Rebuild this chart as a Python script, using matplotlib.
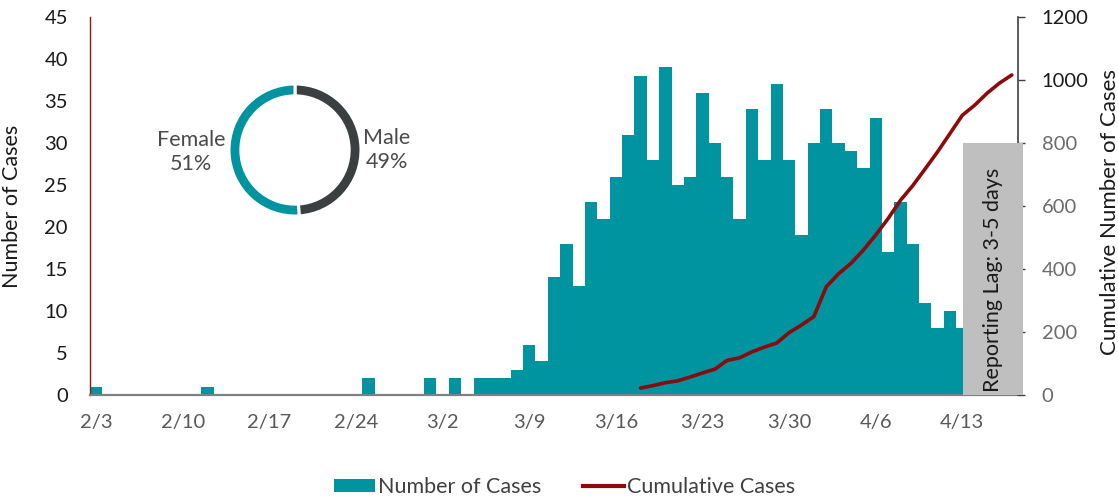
import matplotlib
matplotlib.use('Agg')
import matplotlib.pyplot as plt
import numpy as np
import pandas as pd
from matplotlib.patches import Rectangle, Patch
from matplotlib.lines import Line2D

plt.rcParams['font.family'] = ['Lato', 'DejaVu Sans']

# ---------------- data ----------------
start_date = '2020-02-03'
end_date = '2020-04-17'
tick_labels = ['2/3', '2/10', '2/17', '2/24', '3/2', '3/9', '3/16', '3/23', '3/30', '4/6', '4/13']

# daily number of cases (by onset), 2/3 .. 4/13
cases = [1, 0, 0, 0, 0, 0, 0, 0, 0, 1,
         0, 0, 0, 0, 0, 0, 0, 0, 0, 0,
         0, 0, 2, 0, 0, 0, 0, 2, 0, 2,
         0, 2, 2, 2, 3, 6, 4, 14, 18, 13,
         23, 21, 26, 31, 38, 28, 39, 25, 26, 36,
         30, 26, 21, 34, 28, 37, 28, 19, 30, 34,
         30, 29, 27, 33, 17, 23, 18, 11, 8, 10,
         8]

# cumulative cases, 3/18 .. 4/17
cum_start = '2020-03-18'
cumulative = [22, 30, 39, 45, 57, 70, 82, 110, 118, 137,
              152, 165, 198, 222, 249, 343, 385, 418, 460, 508,
              560, 618, 665, 718, 772, 830, 888, 920, 958, 990,
              1016]

gender_labels = ['Male', 'Female']
gender_pct = [49, 51]

series_labels = ['Number of Cases', 'Cumulative Cases']
lag_text = 'Reporting Lag: 3-5 days'

# ---------------- style ----------------
TEAL = '#0093A0'
RED = '#8B0A0A'
DARK = '#3B3F40'
GRAY_TXT = '#595959'

W, H = 1118, 498
fig = plt.figure(figsize=(W / 100, H / 100), dpi=100)

def fx(px):
    return px / W

def fy(py):
    return 1 - py / H

ax_l, ax_r, ax_t, ax_b = 90, 1018, 17, 395
ax = fig.add_axes([fx(ax_l), fy(ax_b), fx(ax_r - ax_l), (ax_b - ax_t) / H])

dates = pd.date_range(start_date, end_date, freq='D')
xi = np.arange(len(cases))
ax.bar(xi, cases, width=1.0, color=TEAL, linewidth=0, zorder=2)
ax.set_xlim(-0.5, len(dates) - 0.5)
ax.set_ylim(0, 45)
ax.set_yticks(range(0, 46, 5))
ax.set_xticks(np.arange(0, len(cases), 7), labels=tick_labels)
ax.tick_params(axis='x', length=0, colors=GRAY_TXT, labelsize=14.5, pad=14)
ax.tick_params(axis='y', length=0, labelsize=14.5, pad=16, colors='#1a1a1a')
for s in ['top', 'right']:
    ax.spines[s].set_visible(False)
ax.spines['left'].set_color('#A01010')
ax.spines['left'].set_linewidth(1.0)
ax.spines['bottom'].set_color('#808080')
ax.spines['bottom'].set_linewidth(1.6)

ax2 = ax.twinx()
ax2.set_ylim(0, 1200)
rticks = list(range(0, 1201, 200))
ax2.set_yticks(rticks, labels=[str(t) for t in rticks])
ax2.tick_params(axis='y', direction='out', length=5, width=1, color='#404040',
                labelsize=14.5, pad=12)
for t, lbl in zip(rticks, ax2.get_yticklabels()):
    lbl.set_color('#6b6b6b' if t <= 800 else '#1a1a1a')
for s in ['top', 'left', 'bottom']:
    ax2.spines[s].set_visible(False)
ax2.spines['right'].set_color('#404040')
ax2.spines['right'].set_linewidth(1.2)

cum_dates = pd.date_range(cum_start, periods=len(cumulative), freq='D')
cum_x = np.array([(d - dates[0]).days for d in cum_dates])
ax2.plot(cum_x, cumulative, color=RED, lw=2.6, solid_capstyle='round',
         solid_joinstyle='round', zorder=5)

# reporting lag box
box = Rectangle((len(cases) - 0.95, 0), 4.85, 800, transform=ax2.transData,
                facecolor='#BFBFBF', edgecolor='none', zorder=10, clip_on=False)
ax2.add_patch(box)
fig.text(fx(993), fy(280), lag_text, rotation=90, ha='center', va='center',
         fontsize=15.5, color='#1a1a1a')

ax.set_ylabel('Number of Cases', fontsize=15.5, color='#1a1a1a')
ax.yaxis.set_label_coords(fx(22 - ax_l) / fx(ax_r - ax_l), 0.5)
fig.text(fx(1110), fy(212), 'Cumulative Number of Cases', rotation=90,
         ha='center', va='center', fontsize=16, color='#1a1a1a')

# donut
cx, cy, r = 295, 150, 66
dax = fig.add_axes([fx(cx - r - 2), fy(cy + r + 2), fx(2 * r + 4), (2 * r + 4) / H])
dax.pie(gender_pct, colors=[DARK, TEAL], startangle=90, counterclock=False,
        wedgeprops=dict(width=0.18, edgecolor='white', linewidth=2.2))
dax.set_xlim(-1.03, 1.03)
dax.set_ylim(-1.03, 1.03)
dax.set_aspect('equal')
dax.axis('off')
fig.text(fx(191), fy(152), f'{gender_labels[1]}\n{gender_pct[1]}%', ha='center',
         va='center', fontsize=15.5, color='#4a4a4a', linespacing=1.2)
fig.text(fx(387), fy(150), f'{gender_labels[0]}\n{gender_pct[0]}%', ha='center',
         va='center', fontsize=15.5, color='#4a4a4a', linespacing=1.2)

# legend
handles = [Patch(facecolor=TEAL, edgecolor='none'),
           Line2D([], [], color=RED, lw=3)]
fig.legend(handles, series_labels, loc='center', bbox_to_anchor=(0.505, fy(487)),
           ncol=2, frameon=False, fontsize=15.5, labelcolor='#404040',
           handlelength=1.9, handletextpad=0.15, columnspacing=1.9,
           handleheight=0.6)

fig.savefig('out.png', dpi=100)
